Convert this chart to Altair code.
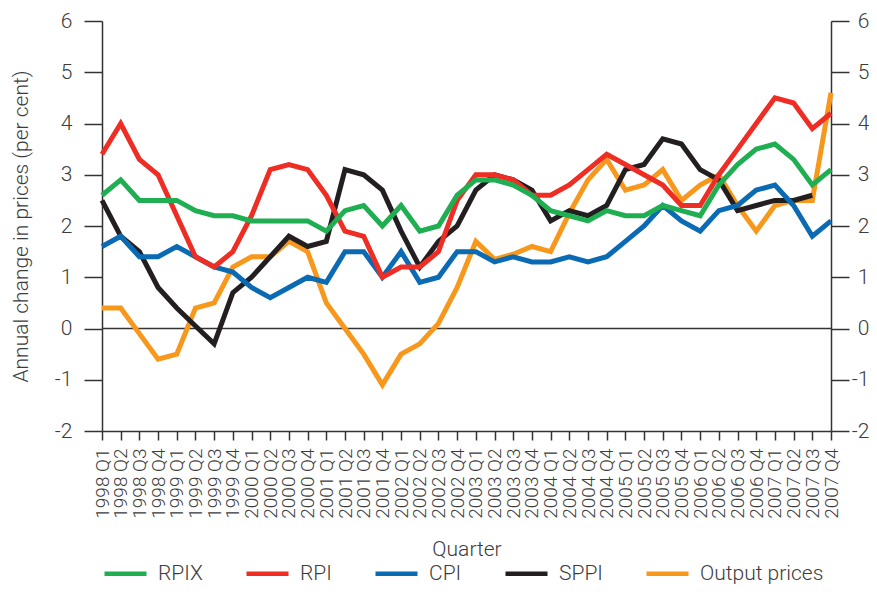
import altair as alt
import pandas as pd

years = ["1998", "1999", "2000", "2001", "2002", "2003", "2004", "2005", "2006", "2007"]
qtrs = ["Q1", "Q2", "Q3", "Q4"]
quarters = [f"{y} {q}" for y in years for q in qtrs]

rpix = [2.6, 2.9, 2.5, 2.5, 2.5, 2.3, 2.2, 2.2, 2.1, 2.1, 2.1, 2.1, 1.9, 2.3, 2.4, 2.0,
        2.4, 1.9, 2.0, 2.6, 2.9, 2.9, 2.8, 2.6, 2.3, 2.2, 2.1, 2.3, 2.2, 2.2, 2.4, 2.3,
        2.2, 2.8, 3.2, 3.5, 3.6, 3.3, 2.8, 3.1]
rpi = [3.4, 4.0, 3.3, 3.0, 2.2, 1.4, 1.2, 1.5, 2.2, 3.1, 3.2, 3.1, 2.6, 1.9, 1.8, 1.0,
       1.2, 1.2, 1.5, 2.5, 3.0, 3.0, 2.9, 2.6, 2.6, 2.8, 3.1, 3.4, 3.2, 3.0, 2.8, 2.4,
       2.4, 3.0, 3.5, 4.0, 4.5, 4.4, 3.9, 4.2]
cpi = [1.6, 1.8, 1.4, 1.4, 1.6, 1.4, 1.2, 1.1, 0.8, 0.6, 0.8, 1.0, 0.9, 1.5, 1.5, 1.0,
       1.5, 0.9, 1.0, 1.5, 1.5, 1.3, 1.4, 1.3, 1.3, 1.4, 1.3, 1.4, 1.7, 2.0, 2.4, 2.1,
       1.9, 2.3, 2.4, 2.7, 2.8, 2.4, 1.8, 2.1]
sppi = [2.5, 1.8, 1.5, 0.8, 0.4, 0.05, -0.3, 0.7, 1.0, 1.4, 1.8, 1.6, 1.7, 3.1, 3.0, 2.7,
        1.9, 1.2, 1.7, 2.0, 2.7, 3.0, 2.9, 2.7, 2.1, 2.3, 2.2, 2.4, 3.1, 3.2, 3.7, 3.6,
        3.1, 2.9, 2.3, 2.4, 2.5, 2.5, 2.6, None]
output_prices = [0.4, 0.4, -0.1, -0.6, -0.5, 0.4, 0.5, 1.2, 1.4, 1.4, 1.7, 1.5, 0.5, 0.0, -0.5, -1.1,
                 -0.5, -0.3, 0.1, 0.8, 1.7, 1.35, 1.45, 1.6, 1.5, 2.25, 2.9, 3.3, 2.7, 2.8, 3.1, 2.5,
                 2.8, 3.0, 2.4, 1.9, 2.4, 2.5, 2.5, 4.6]

series_names = ["RPIX", "RPI", "CPI", "SPPI", "Output prices"]
series_colors = ["#1fae51", "#ee2d24", "#0a6ab3", "#231f20", "#f7981d"]

# draw order (last on top)
draw = [("Output prices", output_prices), ("SPPI", sppi), ("CPI", cpi), ("RPI", rpi), ("RPIX", rpix)]
rows = []
for name, vals in draw:
    for q, v in zip(quarters, vals):
        if v is not None:
            rows.append({"quarter": q, "series": name, "value": v})
df = pd.DataFrame(rows)

FONT = "Roboto"
TXT = "#3c3c3c"
AX = "#333333"

xenc = alt.X(
    "quarter:N",
    sort=quarters,
    scale=alt.Scale(type="point", padding=0),
    axis=alt.Axis(
        title="Quarter", labelAngle=-90, labelFontSize=19, tickSize=9, labelPadding=8,
        titleFontSize=21, titlePadding=20, labelOverlap=False,
        domainWidth=1.5, tickWidth=1.5,
    ),
)

yscale = alt.Scale(domain=[-2, 6], nice=False)
yvals = [-2, -1, 0, 1, 2, 3, 4, 5, 6]
hyphen_labels = "toString(datum.value)"

lines = alt.Chart(df).mark_line(strokeWidth=5, strokeJoin="miter").encode(
    x=xenc,
    y=alt.Y(
        "value:Q", scale=yscale,
        axis=alt.Axis(
            title="Annual change in prices (per cent)", values=yvals, tickSize=18,
            labelPadding=12, labelFontSize=21, titleFontSize=21, titlePadding=23,
            labelExpr=hyphen_labels,
            grid=False, domainWidth=1.5, tickWidth=1.5,
        ),
    ),
    color=alt.Color(
        "series:N",
        scale=alt.Scale(domain=series_names, range=series_colors),
        legend=alt.Legend(
            title=None, orient="none", legendX=0, legendY=529, direction="horizontal",
            symbolType="stroke", symbolSize=1764, symbolStrokeWidth=4.5,
            labelFontSize=21, labelOffset=9, columnPadding=34,
        ),
    ),
    detail="series:N",
)

zero_df = pd.DataFrame({"v": [0]})
zero = alt.Chart(zero_df).mark_rule(color=AX, strokeWidth=1.5).encode(
    y=alt.Y(
        "v:Q", scale=yscale,
        axis=alt.Axis(
            orient="right", title=None, values=yvals, tickSize=18, labelPadding=20,
            labelAlign="right", labelFontSize=21, labelExpr=hyphen_labels,
            grid=False, domainWidth=1.5, tickWidth=1.5,
        ),
    ),
)

chart = (
    alt.layer(zero, lines)
    .resolve_axis(y="independent")
    .properties(
        width=729, height=410,
        autosize=alt.AutoSizeParams(type="none"),
        padding={"left": 94, "top": 13, "right": 38, "bottom": 156},
    )
    .configure_view(stroke=None)
    .configure_axis(
        labelFont=FONT, titleFont=FONT, labelColor=TXT, titleColor=TXT,
        labelFontWeight=300, titleFontWeight=300, domainColor=AX, tickColor=AX,
    )
    .configure_legend(labelFont=FONT, labelColor=TXT, labelFontWeight=300)
)

chart.save("out.html", embed_options={"renderer": "svg", "actions": False})
